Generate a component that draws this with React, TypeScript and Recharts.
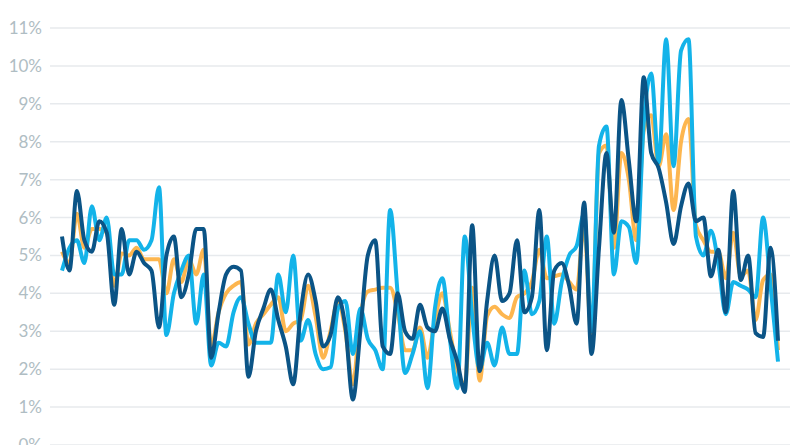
import { useEffect } from "react";
import { LineChart, Line, XAxis, YAxis, CartesianGrid } from "recharts";

// --- Data (monthly rates, %) ---

const DARK_SERIES = [
  5.5, 4.6, 6.7, 5.4, 5.1, 5.9, 5.6, 3.7, 5.7, 4.5,
  5.1, 4.8, 4.6, 3.1, 5.0, 5.5, 3.9, 4.5, 5.7, 5.7,
  2.3, 3.5, 4.5, 4.7, 4.6, 1.8, 3.0, 3.6, 4.1, 3.3,
  2.6, 1.6, 3.5, 4.5, 3.8, 2.6, 2.9, 3.9, 3.1, 1.2,
  3.0, 5.0, 5.4, 2.6, 2.4, 4.0, 3.0, 2.8, 3.7, 3.1,
  3.0, 3.6, 2.8, 2.2, 1.4, 5.8, 1.95, 3.8, 5.0, 3.8,
  4.0, 5.4, 3.5, 3.9, 6.2, 2.5, 4.6, 4.8, 4.2, 3.2,
  6.4, 2.4, 5.2, 7.7, 5.6, 9.1, 7.5, 5.9, 9.7, 7.7,
  7.3, 6.4, 5.3, 6.3, 6.9, 5.9, 6.0, 4.45, 5.15, 3.5,
  6.7, 4.35, 5.0, 2.95, 2.85, 5.2, 2.75,
];

const LIGHT_SERIES = [
  4.6, 5.2, 5.4, 4.8, 6.3, 5.4, 6.0, 4.5, 4.5, 5.4,
  5.4, 5.15, 5.4, 6.8, 2.9, 4.0, 4.6, 5.0, 3.2, 4.5,
  2.1, 2.7, 2.6, 3.5, 3.9, 3.2, 2.7, 2.7, 2.7, 4.5,
  3.5, 5.0, 2.75, 3.3, 2.4, 2.0, 2.05, 3.6, 3.8, 2.4,
  3.6, 2.8, 2.5, 2.0, 6.2, 4.0, 1.9, 2.4, 3.0, 1.5,
  3.6, 4.4, 2.8, 1.5, 5.5, 3.4, 2.0, 2.7, 2.1, 3.1,
  2.4, 2.4, 4.6, 3.45, 3.8, 5.5, 3.2, 4.3, 5.0, 5.25,
  6.1, 3.0, 7.9, 8.4, 4.5, 5.9, 5.75, 4.8, 8.5, 9.8,
  7.45, 10.7, 7.35, 10.4, 10.7, 5.5, 5.0, 5.65, 4.8, 3.45,
  4.3, 4.2, 4.1, 3.9, 6.0, 4.2, 2.2,
];

const ORANGE_SERIES = [
  5.1, 4.8, 6.1, 5.2, 5.7, 5.7, 5.6, 4.2, 5.05, 5.0,
  5.2, 4.9, 4.9, 4.9, 4.0, 4.9, 4.3, 4.9, 4.5, 5.15,
  2.6, 3.5, 4.0, 4.2, 4.3, 2.65, 3.2, 3.45, 3.7, 3.9,
  3.0, 3.2, 3.3, 4.2, 3.4, 2.3, 3.0, 3.8, 3.0, 1.6,
  3.4, 4.05, 4.1, 4.15, 4.15, 3.5, 2.5, 2.5, 3.1, 2.3,
  3.3, 4.0, 3.0, 2.0, 1.6, 4.15, 1.7, 3.4, 3.65, 3.45,
  3.35, 3.9, 4.0, 4.3, 5.15, 4.4, 4.45, 4.5, 4.3, 4.1,
  5.8, 2.8, 7.7, 7.9, 5.2, 7.7, 7.0, 5.4, 8.3, 8.7,
  7.35, 8.2, 6.2, 8.0, 8.6, 5.8, 5.4, 5.1, 5.1, 4.4,
  5.6, 4.45, 4.6, 3.3, 4.35, 4.5, 2.5,
];

const Y_TICKS = [0, 1, 2, 3, 4, 5, 6, 7, 8, 9, 10, 11];

const COLORS = {
  orange: "#FDB64F",
  light: "#13B3E9",
  dark: "#0B5486",
  grid: "#E7EAED",
  tick: "#AFBDC3",
};

const rows = DARK_SERIES.map((d, i) => ({
  i,
  dark: d,
  light: LIGHT_SERIES[i],
  orange: ORANGE_SERIES[i],
}));

export default function App() {
  useEffect(() => {
    document.body.style.margin = "0";
  }, []);

  return (
    <div style={{ position: "absolute", left: 0, top: 0, width: 800, height: 445, background: "#fff" }}>
      <LineChart
        width={800}
        height={445}
        data={rows}
        margin={{ top: 28, right: 10, left: 0, bottom: 0 }}
      >
        <CartesianGrid vertical={false} stroke={COLORS.grid} strokeWidth={1.5} />
        <XAxis
          dataKey="i"
          type="number"
          domain={[0, DARK_SERIES.length - 1]}
          padding={{ left: 12, right: 12 }}
          hide
          height={0}
        />
        <YAxis
          domain={[0, 11]}
          ticks={Y_TICKS}
          interval={0}
          width={50}
          axisLine={false}
          tickLine={false}
          tickFormatter={(v: number) => `${v}%`}
          tick={{ fill: COLORS.tick, fontSize: 17, fontFamily: "Lato" }}
        />
        <Line
          type="monotone"
          dataKey="orange"
          stroke={COLORS.orange}
          strokeWidth={4}
          dot={false}
          isAnimationActive={false}
        />
        <Line
          type="monotone"
          dataKey="light"
          stroke={COLORS.light}
          strokeWidth={4}
          dot={false}
          isAnimationActive={false}
        />
        <Line
          type="monotone"
          dataKey="dark"
          stroke={COLORS.dark}
          strokeWidth={4}
          dot={false}
          isAnimationActive={false}
        />
      </LineChart>
    </div>
  );
}
